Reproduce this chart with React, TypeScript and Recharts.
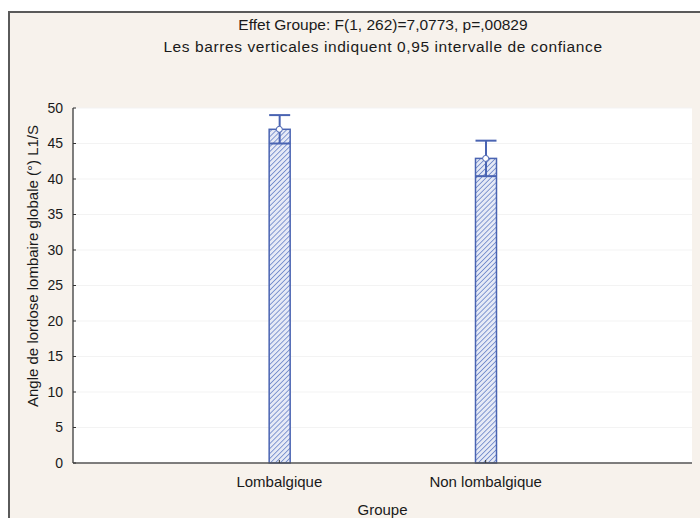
import { ComposedChart, Bar, Scatter, XAxis, YAxis, CartesianGrid, ErrorBar } from 'recharts';

// valeurs
const groupes = ['Lombalgique', 'Non lombalgique'];
const positions = [1, 2];
const moyennes = [47.0, 42.9];
const demiIC = [2.0, 2.5];
const yTicks = [0, 5, 10, 15, 20, 25, 30, 35, 40, 45, 50];

const titre1 = 'Effet Groupe: F(1, 262)=7,0773, p=,00829';
const titre2 = 'Les barres verticales indiquent 0,95 intervalle de confiance';
const yTitre = 'Angle de lordose lombaire globale (°) L1/S';
const xTitre = 'Groupe';

const data = groupes.map((g, i) => ({
  groupe: g,
  x: positions[i],
  moyenne: moyennes[i],
  ic: demiIC[i],
}));

const FONT = '"Liberation Sans", Arial, sans-serif';
const BLEU = '#4a64b2';

function HatchBar(props: any) {
  const { x, y, width, height, index } = props;
  const id = `hatch-${index}`;
  return (
    <g>
      <defs>
        <pattern id={id} patternUnits="userSpaceOnUse" width="3.5" height="3.5" patternTransform="rotate(45)">
          <rect x="0" y="0" width="3.5" height="3.5" fill="#e6eaf6" />
          <line x1="0" y1="0" x2="0" y2="3.5" stroke="#6a84c8" strokeWidth="1.6" />
        </pattern>
      </defs>
      <rect x={x} y={y} width={width} height={height} fill={`url(#${id})`} stroke={BLEU} strokeWidth={1.5} />
    </g>
  );
}

function MeanDot(props: any) {
  const { cx, cy } = props;
  return <circle cx={cx} cy={cy} r={3} fill="#ffffff" stroke={BLEU} strokeWidth={1} />;
}

export default function App() {
  return (
    <div style={{ position: 'relative', width: 700, height: 518, background: '#ffffff', overflow: 'hidden', fontFamily: FONT }}>
      <style>{`body{margin:0}`}</style>
      <div
        style={{
          position: 'absolute',
          left: 8,
          top: 11,
          width: 700,
          height: 520,
          borderTop: '2px solid #5a5a5a',
          borderLeft: '2px solid #5a5a5a',
          background: '#f7f2ec',
        }}
      />
      <div style={{ position: 'absolute', left: 0, width: 766, top: 16, textAlign: 'center', fontSize: 15.5, lineHeight: '18px', color: '#1a1a1a' }}>
        {titre1}
      </div>
      <div style={{ position: 'absolute', left: 0, width: 766, top: 38, textAlign: 'center', fontSize: 15.5, letterSpacing: 0.6, lineHeight: '18px', color: '#1a1a1a' }}>
        {titre2}
      </div>
      <div style={{ position: 'absolute', left: 0, top: 0 }}>
        <ComposedChart width={700} height={518} data={data} margin={{ top: 108, right: 8, bottom: 0, left: 0 }}>
          <CartesianGrid horizontal vertical={false} fill="#ffffff" stroke="#f3f3f3" yAxisId="left" />
          <XAxis
            xAxisId="bas"
            dataKey="x"
            type="number"
            domain={[0, 3]}
            ticks={positions}
            tickFormatter={(v: number) => groupes[v - 1] ?? ''}
            height={55}
            axisLine={{ stroke: '#555555', strokeWidth: 1.5 }}
            tickLine={{ stroke: '#333333' }}
            tickSize={-3}
            tickMargin={16}
            tick={{ fill: '#1a1a1a', fontSize: 15, fontFamily: FONT }}
            label={{
              content: ({ viewBox }: any) => (
                <text x={viewBox.x + viewBox.width / 2} y={515} textAnchor="middle" fontSize={15} fill="#1a1a1a" fontFamily={FONT}>
                  {xTitre}
                </text>
              ),
            }}
          />
          <XAxis
            xAxisId="haut"
            dataKey="x"
            type="number"
            orientation="top"
            domain={[0, 3]}
            ticks={positions}
            tickFormatter={() => ''}
            height={0}
            axisLine={{ stroke: '#555555', strokeWidth: 1.5 }}
            tickLine={{ stroke: '#333333' }}
            tickSize={-3}
          />
          <YAxis
            yAxisId="left"
            type="number"
            domain={[0, 50]}
            ticks={yTicks}
            width={73}
            axisLine={{ stroke: '#555555', strokeWidth: 1.5 }}
            tickLine={{ stroke: '#333333' }}
            tickSize={-3}
            tickMargin={13}
            tick={{ fill: '#1a1a1a', fontSize: 14, fontFamily: FONT }}
            label={{
              content: () => (
                <text
                  x={0}
                  y={0}
                  transform="translate(38,266) rotate(-90)"
                  textAnchor="middle"
                  fontSize={15}
                  fill="#1a1a1a"
                  fontFamily={FONT}
                >
                  {yTitre}
                </text>
              ),
            }}
          />
          <YAxis
            yAxisId="right"
            orientation="right"
            type="number"
            domain={[0, 50]}
            ticks={yTicks}
            width={0}
            axisLine={{ stroke: '#555555', strokeWidth: 1.5 }}
            tickLine={{ stroke: '#333333' }}
            tickSize={-3}
            tickFormatter={() => ''}
          />
          <Bar xAxisId="bas" yAxisId="left" dataKey="moyenne" barSize={21} shape={<HatchBar />} isAnimationActive={false}>
            <ErrorBar dataKey="ic" direction="y" width={10.5} stroke={BLEU} strokeWidth={2} />
          </Bar>
          <Scatter xAxisId="bas" yAxisId="left" dataKey="moyenne" shape={<MeanDot />} isAnimationActive={false} />
        </ComposedChart>
      </div>
    </div>
  );
}
